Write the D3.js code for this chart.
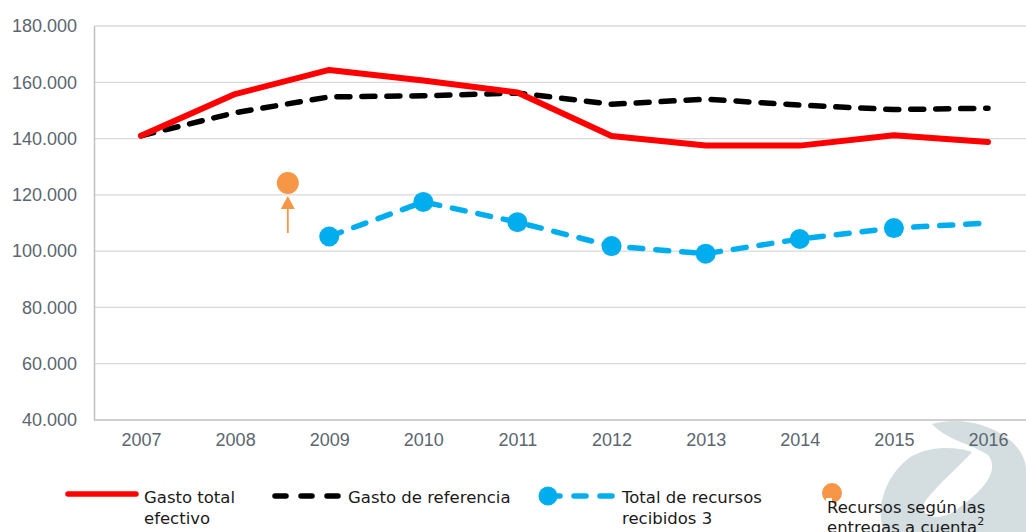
<!DOCTYPE html>
<html><head><meta charset="utf-8">
<script src="https://cdn.jsdelivr.net/npm/d3@7"></script>
<style>body{margin:0;background:#fff;}svg{display:block;}</style>
</head><body>
<svg id="chart" width="1026" height="532"></svg>
<script>
const years = ["2007","2008","2009","2010","2011","2012","2013","2014","2015","2016"];
const gastoTotal = [141, 155.8, 164.4, 160.6, 156.4, 140.9, 137.5, 137.5, 141.2, 138.8];
const gastoReferencia = [141, 149.2, 154.8, 155.2, 156.2, 152.2, 154, 151.9, 150.3, 150.8];
const recursosYears = ["2009","2010","2011","2012","2013","2014","2015","2016"];
const recursosRecibidos = [105.2, 117.5, 110.3, 101.8, 99.1, 104.3, 108.2, 110.0];
const entregasPos = 0.56; // between 2008 and 2009
const entregasValue = 124.2;
const yTicks = [40,60,80,100,120,140,160,180];

(function(){
const svg = d3.select("#chart");
const mLeft = 94, mTop = 26, mBottom = 420;
const x = d3.scalePoint().domain(years).range([141, 988]);
const y = d3.scaleLinear().domain([40,180]).range([mBottom, mTop]);

// watermark
const wm = svg.append("g").attr("fill","#cdd8da").attr("opacity",0.85);
wm.append("path").attr("d",
 "M932,424 C975,412 1026,438 1026,470 L1026,532 L884,532 C874,505 888,472 912,456 C930,446 955,446 972,452 C958,468 940,482 926,500 C916,515 936,524 956,510 C985,490 1000,470 988,455 C972,444 946,440 932,424 Z");

// gridlines
svg.append("g").selectAll("line").data(yTicks.slice(1)).join("line")
  .attr("x1", mLeft).attr("x2", 1026)
  .attr("y1", d=>y(d)).attr("y2", d=>y(d))
  .attr("stroke","#d9d9d9").attr("stroke-width",1.3);

// axes
const yAxis = d3.axisLeft(y).tickValues(yTicks).tickSize(0).tickPadding(17)
  .tickFormat(d => d3.format(".3f")(d));
const gy = svg.append("g").attr("transform",`translate(${mLeft},0)`).call(yAxis);
gy.select(".domain").attr("stroke","#bfbfbf").attr("stroke-width",1.5);
gy.selectAll("text").attr("font-family","Liberation Sans, Arial, sans-serif")
  .attr("font-size",18).attr("fill","#5b6670");

svg.append("line").attr("x1",mLeft).attr("x2",1026).attr("y1",mBottom).attr("y2",mBottom)
  .attr("stroke","#bfbfbf").attr("stroke-width",1.5);
const xAxis = d3.axisBottom(x).tickSize(0).tickPadding(13);
const gx = svg.append("g").attr("transform",`translate(0,${mBottom})`).call(xAxis);
gx.select(".domain").remove();
gx.selectAll("text").attr("font-family","Liberation Sans, Arial, sans-serif")
  .attr("font-size",18).attr("fill","#5b6670");

// lines
const line = d3.line().x(d=>x(d[0])).y(d=>y(d[1]));
svg.append("path").datum(years.map((yr,i)=>[yr,gastoReferencia[i]]))
  .attr("d",line).attr("fill","none").attr("stroke","#000").attr("stroke-width",5.5)
  .attr("stroke-linecap","round").attr("stroke-dasharray","13,12");
svg.append("path").datum(years.map((yr,i)=>[yr,gastoTotal[i]]))
  .attr("d",line).attr("fill","none").attr("stroke","#ff0000").attr("stroke-width",6)
  .attr("stroke-linejoin","round").attr("stroke-linecap","round");
const blue = "#00aeef";
const rdata = recursosYears.map((yr,i)=>[yr,recursosRecibidos[i]]);
svg.append("path").datum(rdata)
  .attr("d",line).attr("fill","none").attr("stroke",blue).attr("stroke-width",5.5)
  .attr("stroke-linecap","round").attr("stroke-dasharray","13,13");
svg.append("g").selectAll("circle").data(rdata.slice(0,-1)).join("circle")
  .attr("cx",d=>x(d[0])).attr("cy",d=>y(d[1])).attr("r",10).attr("fill",blue);

// orange point with arrow
const orange = "#f79646";
const ox = x("2008") + (x("2009")-x("2008"))*entregasPos;
const oy = y(entregasValue);
svg.append("circle").attr("cx",ox).attr("cy",oy).attr("r",11).attr("fill",orange);
svg.append("line").attr("x1",ox).attr("x2",ox).attr("y1",oy+50).attr("y2",oy+22)
  .attr("stroke",orange).attr("stroke-width",1.8);
svg.append("path").attr("d",`M${ox},${oy+13} L${ox-7},${oy+26} L${ox+7},${oy+26} Z`).attr("fill",orange);

// legend
const lf = "DejaVu Sans, Verdana, sans-serif";
const lg = svg.append("g").attr("font-family",lf).attr("font-size",16.5).attr("fill","#1a1a1a");
lg.append("line").attr("x1",68).attr("x2",136).attr("y1",494).attr("y2",494)
  .attr("stroke","#ff0000").attr("stroke-width",5.5).attr("stroke-linecap","round");
const t1 = lg.append("text").attr("x",144).attr("y",503);
t1.append("tspan").attr("x",144).text("Gasto total");
t1.append("tspan").attr("x",144).attr("dy",21).text("efectivo");

lg.append("line").attr("x1",275).attr("x2",338).attr("y1",496).attr("y2",496)
  .attr("stroke","#000").attr("stroke-width",5.5).attr("stroke-linecap","round")
  .attr("stroke-dasharray","11,15");
lg.append("text").attr("x",348).attr("y",503).text("Gasto de referencia");

lg.append("line").attr("x1",548).attr("x2",612).attr("y1",496).attr("y2",496)
  .attr("stroke",blue).attr("stroke-width",5.5).attr("stroke-linecap","round")
  .attr("stroke-dasharray","12,14");
lg.append("circle").attr("cx",548).attr("cy",496).attr("r",9.5).attr("fill",blue);
const t3 = lg.append("text").attr("x",622).attr("y",503);
t3.append("tspan").attr("x",622).text("Total de recursos");
t3.append("tspan").attr("x",622).attr("dy",21).text("recibidos 3");

lg.append("circle").attr("cx",832).attr("cy",493).attr("r",10).attr("fill",orange);
lg.append("rect").attr("x",826).attr("y",498).attr("width",6).attr("height",10).attr("fill","#fff");
const t4 = lg.append("text").attr("x",827).attr("y",513);
t4.append("tspan").attr("x",827).text("Recursos según las");
t4.append("tspan").attr("x",827).attr("dy",20).text("entregas a cuenta");
t4.append("tspan").attr("dy",-8).attr("font-size",11).text("2");
})();
</script>
</body></html>
